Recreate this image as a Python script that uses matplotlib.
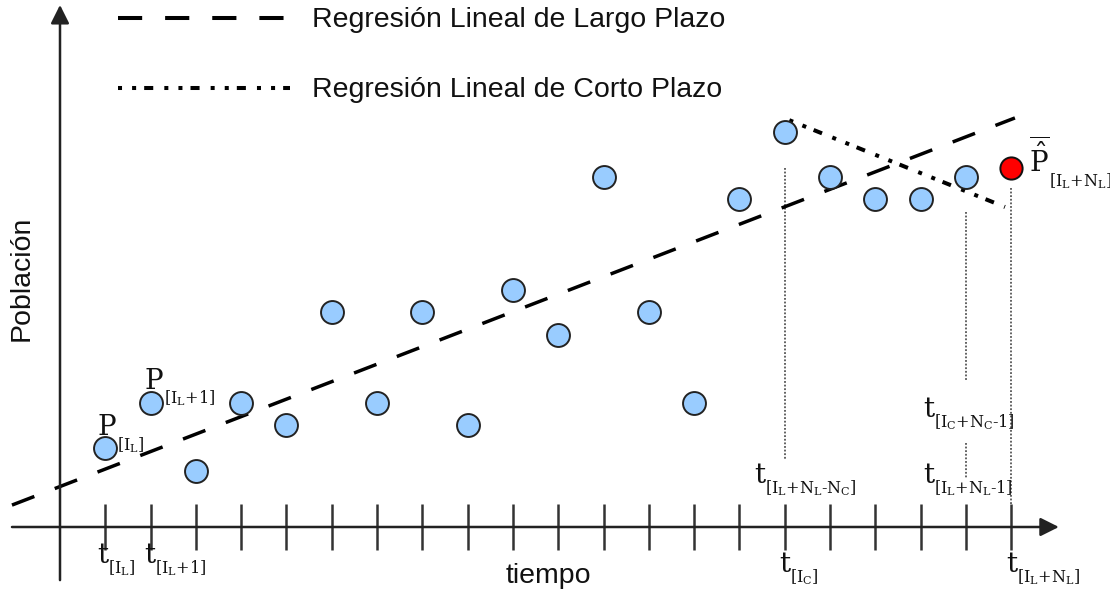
import numpy as np
import matplotlib.pyplot as plt

plt.rcParams["mathtext.fontset"] = "dejavuserif"

# ====== DATA ======
t_obs = np.arange(1, 21)
pob_obs = [3.5, 5.5, 2.5, 5.5, 4.5, 9.5, 5.5, 9.5, 4.5, 10.5,
           8.5, 15.5, 9.5, 5.5, 14.5, 17.5, 15.5, 14.5, 14.5, 15.5]
t_pred = 21
pob_pred = 15.9

# regression lines (endpoints in time / population units)
largo_t = [-1.06, 21.08]
largo_p = [0.97, 18.1]
corto_t = [16.1, 20.86]
corto_p = [18.0, 14.16]

ticks_t = np.arange(1, 22)

# pixel scale of the diagram
SX = 45.3   # px per time unit
SY = 22.6   # px per population unit
W, H = 1110, 596
X0, Y0 = 60, 527  # origin in px

BLUE = "#99ccff"
SANS = "Liberation Sans"
INK = "#111111"

# subscript strings
S_IL = r"$[\mathrm{I}_{\mathrm{L}}]$"
S_IL1 = r"$[\mathrm{I}_{\mathrm{L}}{+}1]$"
S_IC = r"$[\mathrm{I}_{\mathrm{C}}]$"
S_ILNL = r"$[\mathrm{I}_{\mathrm{L}}{+}\mathrm{N}_{\mathrm{L}}]$"
S_ILNLNC = r"$[\mathrm{I}_{\mathrm{L}}{+}\mathrm{N}_{\mathrm{L}}\text{-}\mathrm{N}_{\mathrm{C}}]$"
S_ILNL1 = r"$[\mathrm{I}_{\mathrm{L}}{+}\mathrm{N}_{\mathrm{L}}\text{-}1]$"
S_ICNC1 = r"$[\mathrm{I}_{\mathrm{C}}{+}\mathrm{N}_{\mathrm{C}}\text{-}1]$"


def label(ax, xy, dx, dy, main, sub, main_w, sub_dy, fs=20, sfs=11.5):
    """main symbol at pixel offset (dx, dy) from xy, subscript right after it"""
    k = 0.72
    ax.annotate(main, xy, xytext=(dx * k, dy * k), textcoords="offset points",
                ha="left", va="baseline", fontsize=fs, color=INK)
    ax.annotate(sub, xy, xytext=((dx + main_w) * k, (dy + sub_dy) * k),
                textcoords="offset points", ha="left", va="baseline",
                fontsize=sfs, color=INK)


def main():
    fig = plt.figure(figsize=(W / 100, H / 100), dpi=100)
    ax = fig.add_axes([0, 0, 1, 1])
    ax.set_xlim(-X0 / SX, (W - X0) / SX)
    ax.set_ylim(-(H - Y0) / SY, Y0 / SY)
    ax.axis("off")

    # --- axes with arrows ---
    ax.annotate("", xy=(22.05, 0), xytext=(-1.06, 0),
                arrowprops=dict(arrowstyle="-|>", lw=1.8, color="#222222",
                                mutation_scale=28, shrinkA=0, shrinkB=0))
    ax.annotate("", xy=(0, 23.1), xytext=(0, -2.35),
                arrowprops=dict(arrowstyle="-|>", lw=1.8, color="#222222",
                                mutation_scale=28, shrinkA=0, shrinkB=0))
    for t in ticks_t:
        ax.plot([t, t], [-1.0, 1.0], color="#333333", lw=1.8, solid_capstyle="butt")

    # --- guide lines (thin dotted) ---
    gl = dict(color="#555555", lw=1.3, ls=(0, (1, 1)))
    ax.plot([16, 16], [pob_obs[15] - 1.6, 2.95], **gl)
    ax.plot([20, 20], [pob_obs[19] - 1.55, 6.5], **gl)
    ax.plot([20, 20], [3.7, 2.15], **gl)
    ax.plot([21, 21], [pob_pred - 0.9, 1.0], **gl)

    # --- regression lines ---
    ln, = ax.plot(largo_t, largo_p, color="black", lw=2.5, solid_capstyle="butt")
    ln.set_dashes((6.9, 6.3))
    ls, = ax.plot(corto_t, corto_p, color="black", lw=2.9)
    ls.set_dashes((1, 2.5, 1, 2, 2.25, 2.75))

    # --- points ---
    ax.plot(t_obs, pob_obs, "o", ms=16.5, mfc=BLUE, mec="#222222", mew=1.4, zorder=5)
    ax.plot([t_pred], [pob_pred], "o", ms=16, mfc="#ff0000", mec="#111111", mew=1.4, zorder=5)

    # --- legend (drawn by hand) ---
    lx = [(118 - X0) / SX, (290 - X0) / SX]
    y1 = (Y0 - 18) / SY
    y2 = (Y0 - 88) / SY
    l1, = ax.plot(lx, [y1, y1], color="black", lw=2.9, solid_capstyle="butt")
    l1.set_dashes((6.0, 5.7))
    l2, = ax.plot(lx, [y2, y2], color="black", lw=2.9)
    l2.set_dashes((1, 2.5, 1, 2, 2.25, 2.75))
    tx = (312 - X0) / SX
    ax.text(tx, (Y0 - 20) / SY, "Regresión Lineal de Largo Plazo", family=SANS, fontsize=20.5,
            va="center", ha="left", color=INK)
    ax.text(tx, (Y0 - 90) / SY, "Regresión Lineal de Corto Plazo", family=SANS, fontsize=20.5,
            va="center", ha="left", color=INK)

    # --- axis titles ---
    ax.text((548 - X0) / SX, (Y0 - 576) / SY, "tiempo", family=SANS, fontsize=20.5,
            ha="center", va="center", color=INK)
    ax.text((22 - X0) / SX, (Y0 - 278) / SY, "Población", family=SANS, fontsize=20.5,
            ha="center", va="center", rotation=90, color=INK)

    # --- math labels ---
    P = r"$\mathrm{P}$"
    T = r"$\mathrm{t}$"
    label(ax, (1, pob_obs[0]), -8, 13, P, S_IL, 20, -15)
    label(ax, (2, pob_obs[1]), -7, 14, P, S_IL1, 20, -15)

    label(ax, (1, 0), -8, -36, T, S_IL, 11, -10)
    label(ax, (2, 0), -7, -36, T, S_IL1, 11, -10)
    label(ax, (16, 0), -6, -45, T, S_IC, 11, -10)
    label(ax, (21, 0), -5, -45, T, S_ILNL, 11, -10)
    label(ax, (16, 0), -31, 44, T, S_ILNLNC, 11, -10)
    label(ax, (20, 0), -43, 44, T, S_ILNL1, 11, -10)
    label(ax, (20, 0), -43, 110, T, S_ICNC1, 11, -10)
    label(ax, (t_pred, pob_pred), 18, -4, r"$\overline{\hat{\mathrm{P}}}$", S_ILNL, 20, -15)

    fig.savefig("out.png", dpi=100)


if __name__ == "__main__":
    main()
